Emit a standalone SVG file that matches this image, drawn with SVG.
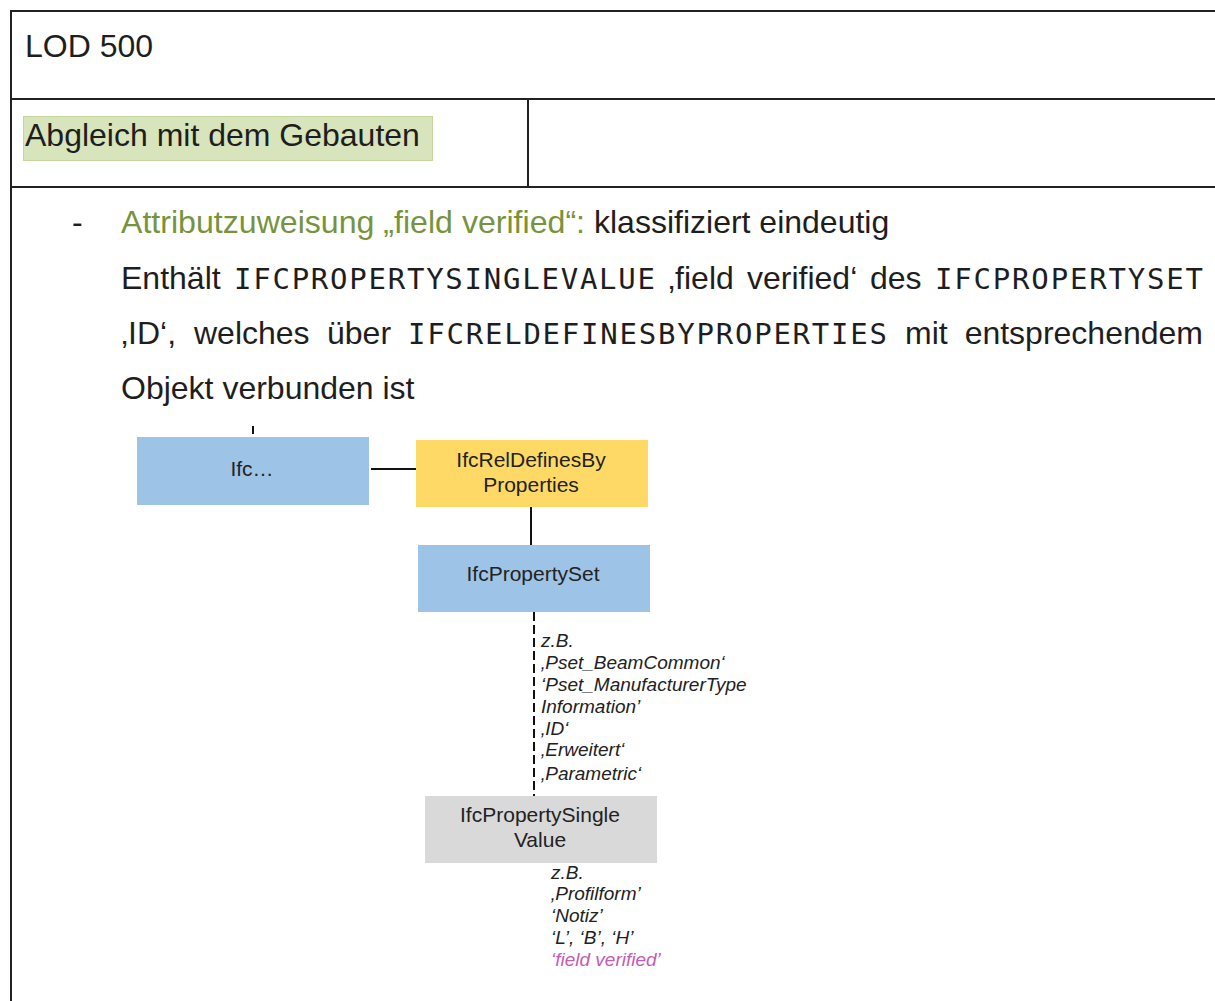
<svg xmlns="http://www.w3.org/2000/svg" width="1215" height="1001" viewBox="0 0 1215 1001">
  <style>
    .rule { stroke: #222; stroke-width: 2; fill: none; }
    .txt { font-family: "Liberation Sans", Arial, sans-serif; font-size: 32px; fill: #1e1e1e; }
    .mono { font-family: "DejaVu Sans Mono", "Liberation Mono", monospace; font-size: 29px; fill: #1e1e1e; }
    .green { fill: #77933c; }
    .node-text { font-family: "Liberation Sans", Arial, sans-serif; font-size: 21px; fill: #222; text-anchor: middle; }
    .note { font-family: "Liberation Sans", Arial, sans-serif; font-size: 19px; font-style: italic; fill: #222; }
    .pink { fill: #c55bb5; }
    .blue { fill: #9dc3e6; }
    .yellow { fill: #ffd966; }
    .grey { fill: #d9d9d9; }
    .edge { stroke: #111; stroke-width: 2; fill: none; }
    .dashed { stroke: #111; stroke-width: 2; fill: none; stroke-dasharray: 9 4; }
  </style>

  <rect width="1215" height="1001" fill="#fff"/>

  <!-- table frame -->
  <g id="table">
    <line class="rule" x1="11" y1="10" x2="11" y2="1001"/>
    <line class="rule" x1="10" y1="11" x2="1215" y2="11"/>
    <line class="rule" x1="10" y1="99" x2="1215" y2="99"/>
    <line class="rule" x1="10" y1="187" x2="1215" y2="187"/>
    <line class="rule" x1="528" y1="99" x2="528" y2="187"/>
  </g>

  <!-- header cells -->
  <g id="header">
    <text class="txt" x="25" y="57">LOD 500</text>
    <rect x="23.5" y="116.5" width="409" height="44" fill="#d8e4bc" stroke="#c4d79b" stroke-width="1"/>
    <text class="txt" x="25" y="146">Abgleich mit dem Gebauten</text>
  </g>

  <!-- description paragraph (justified lines placed word by word) -->
  <g id="paragraph">
    <text class="txt" x="72" y="233">-</text>
    <text class="txt green" x="121" y="233" textLength="464" lengthAdjust="spacingAndGlyphs">Attributzuweisung „field verified“:</text>
    <text class="txt" x="594" y="233">klassifiziert eindeutig</text>

    <text class="txt" x="121" y="289">Enthält</text>
    <text class="mono" x="234" y="289" textLength="421" lengthAdjust="spacing">IFCPROPERTYSINGLEVALUE</text>
    <text class="txt" x="668" y="289">‚field</text>
    <text class="txt" x="747" y="289">verified‘</text>
    <text class="txt" x="870" y="289">des</text>
    <text class="mono" x="935" y="289" textLength="268" lengthAdjust="spacing">IFCPROPERTYSET</text>

    <text class="txt" x="121" y="344">‚ID‘,</text>
    <text class="txt" x="194" y="344">welches</text>
    <text class="txt" x="327" y="344">über</text>
    <text class="mono" x="408" y="344" textLength="479" lengthAdjust="spacing">IFCRELDEFINESBYPROPERTIES</text>
    <text class="txt" x="905" y="344">mit</text>
    <text class="txt" x="1203" y="344" text-anchor="end">entsprechendem</text>

    <text class="txt" x="121" y="399">Objekt verbunden ist</text>
  </g>

  <!-- connectors -->
  <g id="connectors">
    <line class="edge" x1="253" y1="426" x2="253" y2="434" stroke="#666"/>
    <line class="edge" x1="371" y1="469" x2="417" y2="469"/>
    <line class="edge" x1="531" y1="507" x2="531" y2="545"/>
    <line class="dashed" x1="534" y1="612" x2="534" y2="796"/>
  </g>

  <!-- nodes -->
  <g id="node-ifc">
    <rect class="blue" x="137" y="437" width="232" height="68"/>
    <text class="node-text" x="252" y="476">Ifc…</text>
  </g>

  <g id="node-reldefines">
    <rect class="yellow" x="416" y="440" width="232" height="67"/>
    <text class="node-text" x="531" y="467">IfcRelDefinesBy</text>
    <text class="node-text" x="531" y="492">Properties</text>
  </g>

  <g id="node-propertyset">
    <rect class="blue" x="418" y="545" width="232" height="67"/>
    <text class="node-text" x="533" y="581">IfcPropertySet</text>
  </g>

  <g id="node-singlevalue">
    <rect class="grey" x="425" y="796" width="232" height="67"/>
    <text class="node-text" x="540" y="822">IfcPropertySingle</text>
    <text class="node-text" x="540" y="847">Value</text>
  </g>

  <!-- property set examples -->
  <g id="pset-notes">
    <text class="note" x="541" y="647">z.B.</text>
    <text class="note" x="541" y="669">‚Pset_BeamCommon‘</text>
    <text class="note" x="541" y="691">‘Pset_ManufacturerType</text>
    <text class="note" x="541" y="713">Information’</text>
    <text class="note" x="541" y="735">‚ID‘</text>
    <text class="note" x="541" y="756">‚Erweitert‘</text>
    <text class="note" x="541" y="780">‚Parametric‘</text>
  </g>

  <!-- single value examples -->
  <g id="value-notes">
    <text class="note" x="551" y="879">z.B.</text>
    <text class="note" x="551" y="900">‚Profilform’</text>
    <text class="note" x="551" y="922">‘Notiz’</text>
    <text class="note" x="551" y="944">‘L’, ‘B’, ‘H’</text>
    <text class="note pink" x="551" y="966">‘field verified’</text>
  </g>
</svg>
